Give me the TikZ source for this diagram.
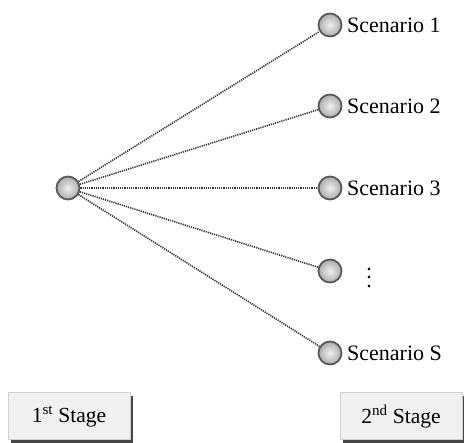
\documentclass[tikz,border=0pt]{standalone}
\usepackage{fontspec}
\setmainfont{Liberation Serif}
\begin{document}
\begin{tikzpicture}[x=1pt,y=-1pt,
  ballnode/.style={circle,minimum size=23pt,inner sep=0pt,draw=gray!70!black,line width=1.8pt,
    inner color=gray!12,outer color=gray!65},
  link/.style={draw=black!80,line width=1.6pt,dash pattern=on 1.2pt off 1pt},
  lbl/.style={anchor=west,inner sep=0pt,font=\fontsize{22}{24}\selectfont},
  stagebox/.style={draw=gray!35,line width=1pt,fill=gray!12,minimum width=122pt,minimum height=47pt,
    inner sep=0pt,font=\fontsize{21.5}{24}\selectfont},
  shadowbox/.style={fill=gray!55!black,draw=none,minimum width=122pt,minimum height=47pt}
]
\useasboundingbox (0,0) rectangle (464,443);
\clip (0,0) rectangle (464,443);
\node[ballnode] (r) at (68,188) {};
\node[ballnode] (s1) at (330,25) {};
\node[ballnode] (s2) at (330,106) {};
\node[ballnode] (s3) at (330,188) {};
\node[ballnode] (s4) at (330,271) {};
\node[ballnode] (s5) at (330,353) {};
\foreach \n in {s1,s2,s3,s4,s5} \draw[link] (r) -- (\n);
\node[lbl] (t1) at (347,25) {Scenario 1};
\node[lbl] (t2) at (347,106) {Scenario 2};
\node[lbl] (t3) at (347,188) {Scenario 3};
\node[lbl,anchor=center] (t4) at (369,278) {\vbox{\baselineskip=8.5pt\lineskiplimit=-10pt\hbox{.}\hbox{.}\hbox{.}}};
\node[lbl] (t5) at (347,353) {Scenario S};
\node[shadowbox] (sh1) at (72,419.5) {};
\node[stagebox] (b1) at (69,416.5) {1\textsuperscript{st} Stage};
\node[shadowbox] (sh2) at (404,419.5) {};
\node[stagebox] (b2) at (401,416.5) {2\textsuperscript{nd} Stage};
\end{tikzpicture}
\end{document}
